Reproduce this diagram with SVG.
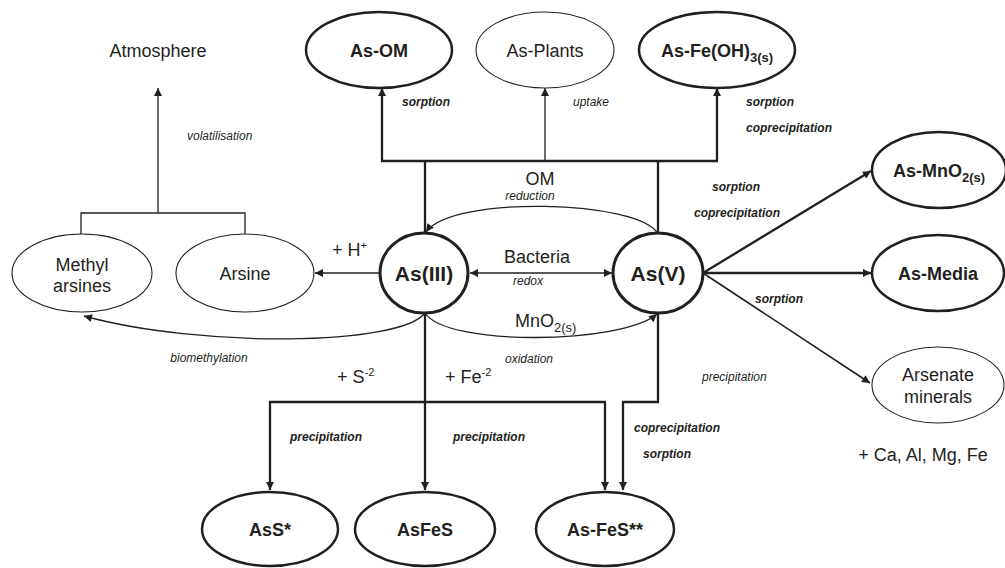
<svg xmlns="http://www.w3.org/2000/svg" width="1005" height="568" viewBox="0 0 1005 568">
<style>
text{font-family:"Liberation Sans",Arial,sans-serif;fill:#231f20}
.c{text-anchor:middle}
.nb{font-size:18px;font-weight:bold}
.big{font-size:21px;font-weight:bold}
.nr{font-size:18px}
.it{font-size:12px;font-style:italic}
.bi{font-size:12px;font-style:italic;font-weight:bold}
.sub{font-size:13px}
ellipse{fill:#fff;stroke:#231f20}
.eb{stroke-width:2.5}
.et{stroke-width:1.1}
.ec{stroke-width:3}
.k{fill:none;stroke:#231f20;stroke-width:2.3}
.t{fill:none;stroke:#231f20;stroke-width:1.3}
.a{marker-end:url(#ah)}
</style>
<defs>
<marker id="ah" viewBox="0 0 10 10" refX="10" refY="5" markerWidth="9" markerHeight="8" markerUnits="userSpaceOnUse" orient="auto-start-reverse"><path d="M0,0 L10,5 L0,10 z" fill="#231f20"/></marker>
</defs>

<g id="connectors">
<path class="k a" d="M382 161 V88"/>
<path class="t a" d="M545 161 V88"/>
<path class="k a" d="M717 161 V88"/>
<path class="k" d="M381 161 H718"/>
<path class="k" d="M425 161 V232"/>
<path class="k" d="M658 161 V233"/>
<path class="t a" d="M658 234 C640 200,452 195,426 232"/>
<path class="t a" d="M425 313 C447 347,622 344,657 314"/>
<path class="t a" d="M425 313 C400 346,200 348,84 316"/>
<path class="t a" d="M470 273 H612" style="marker-start:url(#ah)"/>
<path class="t a" d="M380 273 H315"/>
<path class="t" d="M81 234 V213 H245 V234"/>
<path class="t a" d="M158 213 V88"/>
<path class="k a" d="M703 273 L871 171"/>
<path class="k a" d="M703 273 H871"/>
<path class="t a" d="M703 273 L870 383" style="stroke-width:1.6"/>
<path class="k a" d="M425 313 V490"/>
<path class="k" d="M269 402 H606"/>
<path class="k a" d="M270 402 V490"/>
<path class="k a" d="M605 402 V490"/>
<path class="k a" d="M658 313 V402 H623 V490"/>
</g>

<g id="atmosphere"><text class="nr c" x="158" y="57">Atmosphere</text></g>

<g id="as-om"><ellipse class="eb" cx="379" cy="50" rx="73" ry="38"/><text class="nb c" x="379" y="57">As-OM</text></g>
<g id="as-plants"><ellipse class="et" cx="545" cy="50" rx="69" ry="38"/><text class="nr c" x="545" y="57">As-Plants</text></g>
<g id="as-feoh3"><ellipse class="eb" cx="717" cy="50" rx="78" ry="38"/><text class="nb c" x="717" y="57">As-Fe(OH)<tspan class="sub" dy="5">3(s)</tspan></text></g>

<g id="as-mno2"><ellipse class="eb" cx="939" cy="170" rx="67" ry="38"/><text class="nb c" x="939" y="177">As-MnO<tspan class="sub" dy="5">2(s)</tspan></text></g>
<g id="as-media"><ellipse class="eb" cx="938" cy="273" rx="66" ry="38"/><text class="nb c" x="938" y="280">As-Media</text></g>
<g id="arsenate-minerals"><ellipse class="et" cx="938" cy="385" rx="66" ry="38"/><text class="nr c" x="938" y="381">Arsenate</text><text class="nr c" x="938" y="403">minerals</text></g>
<g id="ca-al-mg-fe"><text class="nr c" x="923" y="461">+ Ca, Al, Mg, Fe</text></g>

<g id="methyl-arsines"><ellipse class="et" cx="82" cy="273" rx="70" ry="39"/><text class="nr c" x="82" y="271">Methyl</text><text class="nr c" x="82" y="292">arsines</text></g>
<g id="arsine"><ellipse class="et" cx="245" cy="273" rx="69" ry="39"/><text class="nr c" x="245" y="280">Arsine</text></g>

<g id="as3"><ellipse class="ec" cx="424" cy="273" rx="44" ry="40"/><text class="big c" x="424" y="281">As(III)</text></g>
<g id="as5"><ellipse class="ec" cx="658" cy="273" rx="45" ry="40"/><text class="big c" x="658" y="281">As(V)</text></g>

<g id="ass"><ellipse class="eb" cx="270" cy="529" rx="68" ry="37"/><text class="nb c" x="270" y="536">AsS*</text></g>
<g id="asfes"><ellipse class="eb" cx="425" cy="529" rx="70" ry="37"/><text class="nb c" x="425" y="536">AsFeS</text></g>
<g id="as-fes2"><ellipse class="eb" cx="605" cy="529" rx="69" ry="37"/><text class="nb c" x="605" y="536">As-FeS**</text></g>

<g id="labels">
<text class="it" x="187" y="140">volatilisation</text>
<text class="bi" x="402" y="106">sorption</text>
<text class="it" x="573" y="106">uptake</text>
<text class="bi" x="746" y="106">sorption</text>
<text class="bi" x="746" y="132">coprecipitation</text>
<text class="nr c" x="540" y="185">OM</text>
<text class="it c" x="530" y="200">reduction</text>
<text class="bi" x="712" y="191">sorption</text>
<text class="bi" x="694" y="217">coprecipitation</text>
<text class="nr" x="332" y="256">+ H<tspan class="sub" dy="-7" style="font-size:11px">+</tspan></text>
<text class="nr c" x="537" y="263">Bacteria</text>
<text class="it c" x="528" y="285">redox</text>
<text class="nr" x="515" y="327">MnO<tspan class="sub" dy="5">2(s)</tspan></text>
<text class="bi" x="755" y="303">sorption</text>
<text class="it c" x="209" y="362">biomethylation</text>
<text class="it c" x="529" y="363">oxidation</text>
<text class="it" x="702" y="381">precipitation</text>
<text class="nr" x="337" y="383">+ S<tspan class="sub" dy="-7" style="font-size:11px">-2</tspan></text>
<text class="nr" x="445" y="383">+ Fe<tspan class="sub" dy="-7" style="font-size:11px">-2</tspan></text>
<text class="bi" x="290" y="441">precipitation</text>
<text class="bi" x="453" y="441">precipitation</text>
<text class="bi" x="634" y="432">coprecipitation</text>
<text class="bi" x="643" y="458">sorption</text>
</g>
</svg>
